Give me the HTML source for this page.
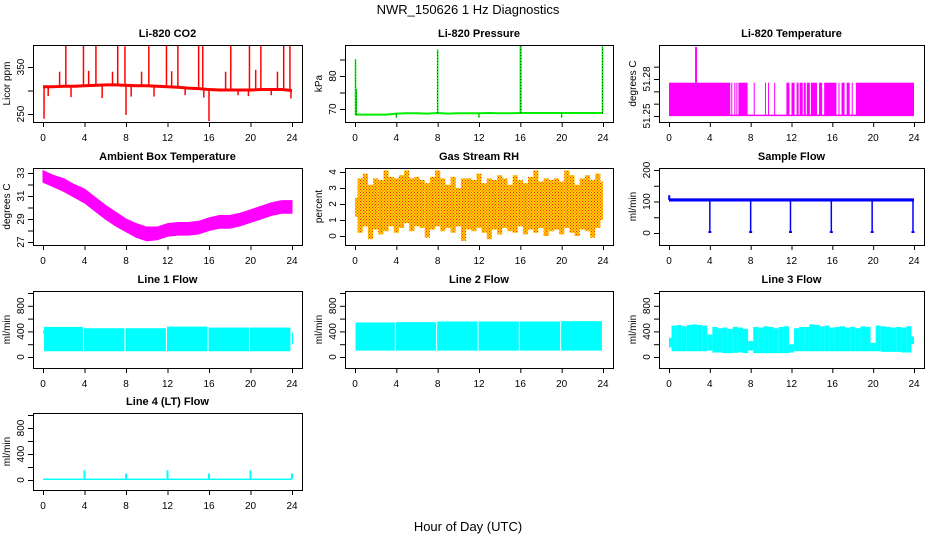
<!DOCTYPE html>
<html><head><meta charset="utf-8"><style>
html,body{margin:0;padding:0;background:#fff;}
svg{display:block;font-family:"Liberation Sans",Arial,sans-serif;}
</style></head><body>
<svg id="c" width="936" height="540" viewBox="0 0 936 540">
<text x="468" y="14" text-anchor="middle" font-size="13">NWR_150626  1 Hz Diagnostics</text>
<text x="468" y="531" text-anchor="middle" font-size="13">Hour of Day (UTC)</text>
</svg>
<script>
// ---- data arrays ----
const hoursHourly = [0,1,2,3,4,5,6,7,8,9,10,11,12,13,14,15,16,17,18,19,20,21,22,23,24];
const xTickLabels = [0,4,8,12,16,20,24];
const co2Base = [308,308,309,309,310,311,312,312,311,310,310,309,308,307,305,304,302,301,301,301,301,302,302,302,300];
const co2SpikeT = [0.1,0.5,1.6,2.2,2.7,3.9,4.4,5.1,5.7,6.7,7.2,7.9,8.0,8.5,9.5,10.2,10.7,11.9,12.4,13.0,13.7,15.0,15.4,15.5,16.0,17.6,18.1,18.8,19.9,19.8,20.5,21.0,22.0,22.6,23.2,23.8,23.9];
const co2SpikeV = [240,288,340,395,286,395,342,395,284,340,395,394,248,287,340,395,287,396,341,395,290,395,395,285,235,340,395,290,396,288,344,395,290,340,395,395,283];
const presBase = [68.3,68.3,68.3,68.3,68.6,68.7,68.7,68.6,68.8,68.6,68.7,68.7,68.7,68.8,68.7,68.7,68.8,68.8,68.8,68.8,68.8,68.8,68.8,68.8,68.8];
const presSpikeT = [0.05,0.12,4,8,12,16,16.05,20,23.95];
const presSpikeV = [85,76,67.4,88,67.4,89,89,67.4,89];
const tempOnStart = [0,6.1,6.4,6.6,6.8,8.3,9.4,9.7,10.3,11.5,12,12.5,12.8,13.2,13.5,13.9,14.7,15.2,16.6,16.9,17.4,17.9,18.3];
const tempOnEnd   = [6,6.2,6.5,6.7,7.7,8.4,9.5,9.8,10.36,11.8,12.3,12.7,13.1,13.4,13.8,14.5,15,16.4,16.7,17.2,17.7,18,24];
const tempHigh = 51.277, tempLow = 51.2505, tempSpikeT = 2.65, tempSpikeV = 51.306;
const ambLo = [32.2,31.8,31.4,30.9,30.4,29.7,29.0,28.4,27.9,27.4,27.1,27.2,27.5,27.6,27.6,27.7,28.0,28.2,28.2,28.4,28.7,29.0,29.3,29.5,29.5];
const ambHi = [33.2,32.8,32.5,32.0,31.6,30.9,30.2,29.6,29.0,28.6,28.3,28.3,28.6,28.7,28.7,28.8,29.1,29.3,29.3,29.5,29.8,30.1,30.4,30.6,30.6];
const rhLo = [1.2,0.2,0.6,-0.2,0.4,0.1,0.3,0.6,0.2,0.5,0.8,0.3,0.6,0.5,-0.1,0.4,0.6,0.3,0.5,0.2,0.6,-0.3,0.4,0.3,0.5,0.2,-0.2,0.4,0.1,0.5,0.3,0.2,0.6,0.1,0.4,0.2,0.5,0.0,0.3,0.4,0.1,0.5,0.2,0.0,0.4,0.3,-0.1,0.5,1.0];
const rhHi = [2.4,3.6,3.9,3.2,3.6,3.5,4.1,3.7,3.6,3.8,4.1,3.6,3.7,3.5,3.3,3.7,4.1,3.6,3.2,3.7,3.0,3.6,3.6,3.5,3.9,3.3,3.6,3.5,3.8,3.6,3.2,3.8,3.5,3.3,3.7,4.1,3.4,3.6,3.5,3.6,3.4,4.1,3.8,3.2,3.6,3.8,3.5,3.9,3.4];
const sfBase = 105;
const sfDipT = [4,8,11.9,15.9,19.9,23.9];
const sfDipV = [0,0,0,0,0,0];
const l1Start = [0.02,0.1,3.95,7.95,11.95,15.95,19.95,24.0];
const l1End   = [0.1,3.85,7.85,11.85,15.85,19.85,23.85,24.1];
const l1Lo    = [360,90,90,90,90,90,90,200];
const l1Hi    = [420,470,450,450,475,460,460,380];
const l2Start = [0.05,3.95,7.95,11.95,15.95,19.95];
const l2End   = [3.85,7.85,11.85,15.85,19.85,23.9];
const l2Lo    = [100,100,100,100,100,100];
const l2Hi    = [540,545,555,555,555,560];
const l3Lo = [150,90,90,90,90,90,90,90,100,70,70,60,60,65,70,60,100,60,60,60,60,60,60,60,70,90,90,90,90,90,90,90,90,90,90,90,90,90,90,90,90,90,80,80,80,80,70,70,200];
const l3Hi = [300,490,500,480,500,510,500,490,350,470,450,460,440,470,460,440,250,470,460,480,470,450,470,480,200,450,470,470,510,500,480,490,460,470,480,460,470,450,480,470,220,490,480,470,460,470,460,480,320];
const l4Base = 12;
const l4SpikeT = [4,8,12,16,20,24];
const l4SpikeV = [150,100,150,100,150,100];

// ---- layout ----
const NS = "http://www.w3.org/2000/svg";
const svg = document.getElementById('c');
const colL = [33,345,659], colR = [302,613,924], rowT = [45,168,291,413], BH = 77;
function mk(tag, attrs, parent){ const e=document.createElementNS(NS,tag); for(const k in attrs) e.setAttribute(k,attrs[k]); (parent||svg).appendChild(e); return e; }

function panel(c, r, name, title, ylab, yv1, yp1, yv2, yp2, ticks, labels){
  const L=colL[c], R=colR[c], T=rowT[r], B=T+BH;
  const g = mk('g',{});
  
  
  const x = v => L+10 + v/24*(R-L-20);
  const y = v => T+yp1 + (v-yv1)/(yv2-yv1)*(yp2-yp1);
  const t = mk('text',{x:(L+R)/2,y:T-8,'text-anchor':'middle','font-size':11,'font-weight':'bold'},g);
  t.textContent = title;
  
  
  const plot = mk('g',{},g);
  
  
  const box = mk('rect',{x:L+0.5,y:T+0.5,width:R-L,height:BH,fill:'none',stroke:'#000','stroke-width':1},g);
  
  
  const xa = mk('g',{},g);
  
  
  mk('line',{x1:x(0),x2:x(24),y1:B+0.5,y2:B+0.5,stroke:'#000'},xa);
  xTickLabels.forEach(v=>{
    mk('line',{x1:x(v)+0.5,x2:x(v)+0.5,y1:B,y2:B+5,stroke:'#000'},xa);
    const tl = mk('text',{x:x(v),y:B+19,'text-anchor':'middle','font-size':10},xa);
    tl.textContent = v;
  });
  const ya = mk('g',{},g);
  
  
  const ys = ticks.map(y);
  mk('line',{x1:L+0.5,x2:L+0.5,y1:Math.min(...ys),y2:Math.max(...ys),stroke:'#000'},ya);
  ticks.forEach(v=>{
    mk('line',{x1:L-5,x2:L,y1:y(v)+0.5,y2:y(v)+0.5,stroke:'#000'},ya);
  });
  labels.forEach(v=>{
    const tl = mk('text',{x:0,y:0,'text-anchor':'middle','font-size':10,transform:`translate(${L-9},${y(v)}) rotate(-90)`},ya);
    tl.textContent = v;
  });
  const yt = mk('text',{x:0,y:0,'text-anchor':'middle','font-size':10,transform:`translate(${L-23},${T+BH/2}) rotate(-90)`},g);
  yt.textContent = ylab;
  
  
  return {x,y,g:plot};
}
function vline(p, t, v1, v2, col, w){ return mk('line',{x1:p.x(t),x2:p.x(t),y1:p.y(v1),y2:p.y(v2),stroke:col,'stroke-width':w||1.5},p.g); }
function poly(p, ts, vs, col, w){ return mk('polyline',{points:ts.map((t,i)=>p.x(t)+','+p.y(vs[i])).join(' '),fill:'none',stroke:col,'stroke-width':w},p.g); }
function band(p, ts, lo, hi, col){
  const pts = ts.map((t,i)=>p.x(t)+','+p.y(hi[i])).concat(ts.slice().reverse().map((t,j)=>{const i=ts.length-1-j; return p.x(t)+','+p.y(lo[i]);}));
  return mk('polygon',{points:pts.join(' '),fill:col,stroke:col,'stroke-width':1},p.g);
}
function stepBand(p, lo, hi, col){
  const n = lo.length;
  lo.forEach((v,i)=>{
    const t0 = i*24/(n-1) - 12/(n-1), t1 = t0 + 24/(n-1);
    const a = Math.max(0,t0), b = Math.min(24,t1);
    mk('rect',{x:p.x(a),y:p.y(hi[i]),width:p.x(b)-p.x(a),height:p.y(v)-p.y(hi[i]),fill:col},p.g);
  });
}

// CO2
const p1 = panel(0,0,'co2','Li-820 CO2','Licor ppm',250,69,350,22,[250,300,350],[250,350]);
co2SpikeT.forEach((t,i)=>{ const b = co2Base[Math.round(t)]; vline(p1,t,b,co2SpikeV[i],'#ff0000',1.5); });
poly(p1,hoursHourly,co2Base,'#ff0000',3);

// Pressure
const p2 = panel(1,0,'pressure','Li-820 Pressure','kPa',70,64,80,31,[70,75,80,85],[70,80]);
poly(p2,hoursHourly,presBase,'#00ee00',2);
presSpikeT.forEach((t,i)=>{ vline(p2,t,presBase[Math.round(t)],presSpikeV[i],'#00ee00',1.5); vline(p2,t,presBase[Math.round(t)],presSpikeV[i],'#000',0.6).setAttribute('stroke-dasharray','1,2'); });

// Li-820 Temperature
const p3 = panel(2,0,'li820-temperature','Li-820 Temperature','degrees C',51.25,71,51.28,34,[51.25,51.26,51.27,51.28,51.29],['51.25','51.28']);
tempOnStart.forEach((s,i)=>{ mk('rect',{x:p3.x(s),y:p3.y(tempHigh),width:Math.max(1,p3.x(tempOnEnd[i])-p3.x(s)),height:p3.y(tempLow)-p3.y(tempHigh),fill:'#ff00ff'},p3.g); });
poly(p3,[0,24],[tempLow,tempLow],'#ff00ff',1.5);
vline(p3,tempSpikeT,tempHigh,tempSpikeV,'#ff00ff',2);

// Ambient
const p4 = panel(0,1,'ambient-temperature','Ambient Box Temperature','degrees C',33,5,27,74,[27,28,29,30,31,32,33],[27,29,31,33]);
band(p4,hoursHourly,ambLo,ambHi,'#ff00ff');

// Gas RH
const p5 = panel(1,1,'gas-stream-rh','Gas Stream RH','percent',0,68,4,4,[0,1,2,3,4],[0,1,2,3,4]);
const defs = mk('defs',{});
const pat = mk('pattern',{id:'rhpat',width:3,height:3,patternUnits:'userSpaceOnUse'},defs);
mk('rect',{width:3,height:3,fill:'#ffd000'},pat);
mk('rect',{x:0,y:0,width:1,height:1,fill:'#ff2000'},pat);
mk('rect',{x:1.5,y:1.5,width:1,height:1,fill:'#ff2000'},pat);
stepBand(p5,rhLo,rhHi,'url(#rhpat)');

// Sample flow
const p6 = panel(2,1,'sample-flow','Sample Flow','ml/min',200,2,0,65,[0,50,100,150,200],[0,100,200]);
mk('rect',{x:p6.x(0),y:p6.y(110),width:p6.x(24)-p6.x(0),height:p6.y(100)-p6.y(110),fill:'#0000ff'},p6.g);
vline(p6,0.02,sfBase,120,'#0000ff',2);
sfDipT.forEach((t,i)=>{ vline(p6,t,sfBase,sfDipV[i],'#0000ff',1.5); mk('rect',{x:p6.x(t)-1.5,y:p6.y(6),width:3,height:p6.y(0)-p6.y(6),fill:'#0000ff'},p6.g); });

// Line flows
const flowTicks=[0,200,400,600,800,1000], flowLabels=[0,400,800];
const p7 = panel(0,2,'line1-flow','Line 1 Flow','ml/min',0,66,1000,2,flowTicks,flowLabels);
l1Start.forEach((s,i)=>mk('rect',{x:p7.x(s),y:p7.y(l1Hi[i]),width:p7.x(l1End[i])-p7.x(s),height:p7.y(l1Lo[i])-p7.y(l1Hi[i]),fill:'#00ffff'},p7.g));
const p8 = panel(1,2,'line2-flow','Line 2 Flow','ml/min',0,66,1000,2,flowTicks,flowLabels);
l2Start.forEach((s,i)=>mk('rect',{x:p8.x(s),y:p8.y(l2Hi[i]),width:p8.x(l2End[i])-p8.x(s),height:p8.y(l2Lo[i])-p8.y(l2Hi[i]),fill:'#00ffff'},p8.g));
const p9 = panel(2,2,'line3-flow','Line 3 Flow','ml/min',0,66,1000,2,flowTicks,flowLabels);
stepBand(p9,l3Lo,l3Hi,'#00ffff');
const p10 = panel(0,3,'line4-flow','Line 4 (LT) Flow','ml/min',0,67,1000,2,flowTicks,flowLabels);
mk('rect',{x:p10.x(0),y:p10.y(l4Base+10),width:p10.x(24)-p10.x(0),height:p10.y(0)-p10.y(l4Base+10),fill:'#00ffff'},p10.g);
l4SpikeT.forEach((t,i)=>vline(p10,t,l4Base,l4SpikeV[i],'#00ffff',2));
</script>
</body></html>
